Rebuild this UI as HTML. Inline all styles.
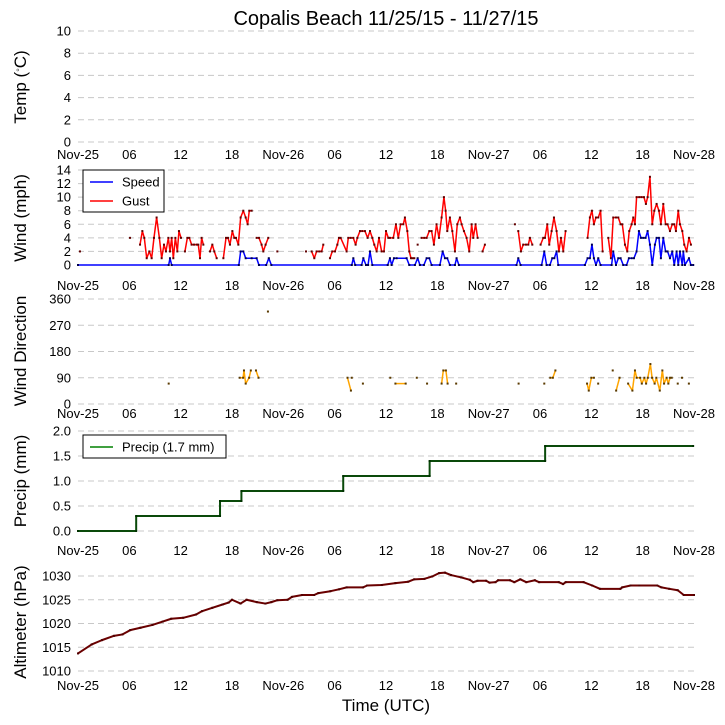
<!DOCTYPE html>
<html><head><meta charset="utf-8">
<style>
html,body{margin:0;padding:0;background:#fff;}
svg{display:block;font-family:"Liberation Sans","DejaVu Sans",sans-serif;}
</style></head>
<body>
<svg id="chart" width="725" height="725" viewBox="0 0 725 725" xmlns="http://www.w3.org/2000/svg">
<text x="386" y="25" font-size="20" text-anchor="middle">Copalis Beach 11/25/15 - 11/27/15</text>
<text x="386" y="711" font-size="17" text-anchor="middle">Time (UTC)</text>
</svg>
<script>
// ---- data ----
const xTickLabels = ["Nov-25","06","12","18","Nov-26","06","12","18","Nov-27","06","12","18","Nov-28"];
const tempTicks = [0,2,4,6,8,10];
const windTicks = [0,2,4,6,8,10,12,14];
const dirTicks = [0,90,180,270,360];
const precipTicks = [0.0,0.5,1.0,1.5,2.0];
const altTicks = [1010,1015,1020,1025,1030];

const gustHours = [0.23,null,6.08,null,7.25,7.52,7.75,8.03,8.34,8.61,8.88,9.19,9.51,9.78,10.05,10.28,10.56,10.75,10.95,11.14,11.38,11.61,11.8,12.04,null,12.5,12.78,13.01,13.28,13.56,13.87,14.06,14.26,14.45,14.65,null,15.43,15.7,15.93,16.21,null,16.99,17.3,17.53,17.76,18.04,18.27,18.47,18.74,19.01,19.32,19.6,19.83,20.02,20.3,null,20.88,21.15,21.46,21.66,21.93,22.24,null,23.3,null,26.65,null,27.31,27.62,27.89,28.2,28.48,28.67,null,29.45,29.72,30.04,30.31,30.5,30.7,31.4,31.59,31.87,32.18,32.45,32.65,32.96,33.23,33.54,33.85,34.13,34.4,34.63,34.91,35.18,35.49,35.76,36.0,36.27,36.46,36.85,37.16,37.44,37.71,38.02,38.21,38.49,38.72,38.92,39.11,39.31,null,39.7,null,40.16,40.47,40.75,41.06,41.33,41.6,41.91,42.19,42.5,42.77,42.97,43.16,43.47,43.75,44.06,44.33,44.64,44.84,45.11,45.42,45.73,46.01,46.2,46.47,46.71,null,47.29,47.56,null,51.07,null,51.46,51.77,52.04,52.36,52.63,52.82,53.1,null,54.07,54.38,54.58,54.85,55.08,55.36,55.63,55.94,56.21,56.45,56.72,56.99,null,59.56,59.83,60.07,60.3,60.54,60.81,61.08,61.32,null,61.98,62.29,62.56,62.88,63.15,63.42,63.62,63.93,64.2,64.43,64.71,64.9,65.1,65.29,65.6,65.87,66.15,66.38,66.58,66.85,67.12,67.36,67.63,67.9,68.13,68.41,68.68,68.91,69.19,69.46,69.69,69.89,70.16,70.36,70.63,70.86,71.14,71.41,71.64];
const gustValues = [2,null,4,null,3,5,4,1,2,1,4,7,4,1,3,2,4,2,4,1,4,2,5,4,null,2,4,4,3,3,3,3,1,4,3,null,2,3,2,1,null,1,4,4,3,5,4,4,3,7,8,7,6,8,8,null,4,4,3,2,3,4,null,2,null,2,null,2,1,2,2,2,3,null,1,2,2,3,4,4,2,4,4,4,3,4,5,5,5,4,5,4,3,2,4,2,2,5,4,4,4,6,4,6,6,7,5,2,1,1,1,null,3,null,4,4,4,5,5,3,6,4,7,10,8,5,7,5,2,6,7,6,5,4,2,6,4,6,4,null,2,3,null,6,null,5,2,3,3,3,4,3,null,3,4,4,6,3,5,7,5,2,4,2,5,null,4,7,8,6,7,7,8,2,null,4,1,7,7,7,6,6,3,2,5,6,7,6,10,10,10,10,9,10,13,6,8,9,8,6,9,6,6,5,6,6,5,8,6,5,3,2,4,3];

const speedHours = [0,10.6,10.75,10.95,18.8,19.01,19.32,19.6,20.3,20.88,21.15,22.0,22.3,22.6,32.0,32.18,32.4,33.15,33.35,33.66,33.9,34.13,34.4,36.2,36.46,36.66,36.93,37.24,38.41,38.72,39.38,39.7,39.97,40.43,40.75,41.06,41.33,42.3,42.62,42.89,43.16,43.47,44.06,44.25,44.52,51.26,51.46,51.73,54.19,54.5,54.77,55.16,55.43,55.67,55.94,56.13,59.25,59.56,59.83,60.07,60.3,60.54,60.81,61.08,62.37,62.56,62.88,63.15,63.42,63.73,64.12,64.39,64.71,64.98,65.29,65.56,65.8,66.07,66.34,66.58,66.85,67.12,67.43,67.63,67.9,68.13,68.41,68.68,68.91,69.19,69.46,69.69,69.97,70.16,70.36,70.63,70.75,70.94,71.41,71.64,71.91];
const speedValues = [0,0,1,0,0,2,2,1,1,1,0,0,1,0,0,1,0,0,1,0,0,2,0,0,1,0,1,1,1,0,0,1,0,0,1,1,0,0,2,1,1,0,0,1,0,0,1,0,0,2,0,0,1,1,2,0,0,1,1,3,1,0,1,0,0,2,0,1,1,0,0,1,1,1,2,5,4,4,4,5,3,0,3,4,4,1,4,2,2,1,2,0,2,0,2,0,2,0,1,0,0];

const dirHours = [10.6,null,18.9,19.3,19.4,19.6,20.0,20.2,null,20.8,21.1,null,22.2,null,32.0,null,33.3,null,31.5,31.9,null,36.5,null,37.1,38.3,null,39.6,null,40.8,null,42.5,42.7,43.0,43.2,null,44.2,null,51.5,null,54.5,null,55.2,55.5,55.8,null,59.5,59.7,60.0,60.3,null,60.8,null,62.5,null,62.9,63.3,null,64.3,64.8,65.1,65.3,65.7,65.9,66.2,66.4,66.6,66.9,67.1,67.4,67.6,68.0,68.3,68.5,68.8,69.0,69.2,69.4,null,70.1,null,70.6,null,71.4];
const dirValues = [70,null,90,90,115,70,90,115,null,115,90,null,317,null,90,null,70,null,90,46,null,90,null,70,70,null,90,null,70,null,70,115,115,70,null,70,null,70,null,70,null,90,90,115,null,70,46,90,90,null,70,null,115,null,46,90,null,70,46,115,90,90,70,90,70,90,137,90,70,90,46,115,70,90,70,90,90,null,70,null,90,null,70];

const precipHours = [0,6.8,6.8,16.6,16.6,19.1,19.1,31.0,31.0,41.1,41.1,54.6,54.6,71.9];
const precipValues = [0,0,0.3,0.3,0.6,0.6,0.8,0.8,1.1,1.1,1.4,1.4,1.7,1.7];

const altHours = [0,1.6,2.8,4.2,5.2,6.1,7.3,8.7,9.9,10.9,12.3,13.8,14.5,15.7,16.9,17.6,18.0,19.0,19.7,20.9,21.9,22.6,23.3,24.5,25.0,26.2,27.6,28.1,29.5,30.5,31.4,33.3,33.8,35.5,37.1,38.6,39.3,40.5,41.4,42.2,42.9,43.6,44.8,45.8,46.2,46.7,47.7,48.1,48.8,49.1,50.5,51.0,51.7,52.4,53.4,53.9,56.2,56.7,57.0,59.1,60.1,61.0,63.4,63.6,64.6,65.6,67.7,68.2,69.1,70.1,70.8,72.0];
const altValues = [1013.7,1015.6,1016.5,1017.4,1017.7,1018.6,1019.1,1019.7,1020.4,1021,1021.2,1021.9,1022.6,1023.3,1024,1024.4,1025,1024.2,1025,1024.5,1024.2,1024.5,1024.9,1025,1025.6,1026,1026,1026.4,1026.8,1027.2,1027.6,1027.6,1028,1028.1,1028.5,1028.8,1029.3,1029.4,1029.9,1030.6,1030.7,1030.2,1029.7,1029.2,1028.7,1029,1029,1028.6,1028.7,1029.1,1029.1,1028.7,1029.3,1028.7,1029.1,1028.7,1028.7,1028.3,1028.7,1028.7,1028,1027.3,1027.3,1027.6,1028,1028,1028,1027.6,1027.3,1027,1026,1026];

// ---- drawing ----
const svg = document.getElementById('chart');
const NS = 'http://www.w3.org/2000/svg';
const X0 = 78, X1 = 694;
const xScale = h => X0 + (h / 72) * (X1 - X0);
function mk(tag, attrs, parent) {
  const e = document.createElementNS(NS, tag);
  for (const k in attrs) e.setAttribute(k, attrs[k]);
  (parent || svg).appendChild(e);
  return e;
}
function yScaleFn(vmin, vmax, ybot, ytop) { return v => ybot - (v - vmin) / (vmax - vmin) * (ybot - ytop); }

function panel(name, ticks, fmt, ys, ybot, ytop, xlabY, ylabel, ylabY) {
  const g = mk('g', {});
  
  
  ticks.forEach(t => {
    const y = ys(t);
    const gl = mk('line', {x1: X0, x2: X1, y1: y, y2: y, stroke: '#c8c8c8', 'stroke-dasharray': '6,4', 'stroke-width': 1}, g);
    
    
    const tl = mk('text', {x: 71, y: y + 4.5, 'font-size': 13, 'text-anchor': 'end'}, g);
    tl.textContent = fmt(t);
    
    
  });
  xTickLabels.forEach((lab, i) => {
    const t = mk('text', {x: xScale(i * 6), y: xlabY, 'font-size': 13, 'text-anchor': 'middle'}, g);
    t.textContent = lab;
    
    
  });
  const yl = mk('text', {x: 0, y: 0, 'font-size': 17, 'text-anchor': 'middle', transform: `translate(26,${ylabY}) rotate(-90)`}, g);
  yl.innerHTML = ylabel;
  
  
  return g;
}

function series(name, hours, vals, ys, color, markerColor, lw) {
  const g = mk('g', {});
  
  
  let segs = [], cur = [];
  for (let i = 0; i < hours.length; i++) {
    if (hours[i] === null || vals[i] === null) { if (cur.length) segs.push(cur); cur = []; }
    else cur.push([xScale(hours[i]), ys(vals[i])]);
  }
  if (cur.length) segs.push(cur);
  segs.forEach(s => {
    if (s.length > 1) {
      const p = mk('polyline', {points: s.map(q => q.join(',')).join(' '), fill: 'none', stroke: color, 'stroke-width': lw, 'stroke-linejoin': 'round'}, g);
      
      
    }
    s.forEach(q => {
      const r = mk('rect', {x: q[0] - 1, y: q[1] - 1, width: 2, height: 2, fill: markerColor}, g);
      
      
    });
  });
}

// Temp
const yT = yScaleFn(0, 10, 142, 31);
panel('temp', tempTicks, t => t, yT, 142, 31, 159, 'Temp (<tspan baseline-shift="super" font-size="10">◦</tspan>C)', 87);
// Wind
const yW = yScaleFn(0, 14, 265, 170);
panel('wind', windTicks, t => t, yW, 265, 170, 290, 'Wind (mph)', 218);
series('gust', gustHours, gustValues, yW, '#ff0000', '#600000', 1.5);
series('speed', speedHours, speedValues, yW, '#0000ff', '#000050', 1.5);
// Direction
const yD = yScaleFn(0, 360, 404, 299);
panel('direction', dirTicks, t => t, yD, 404, 299, 418, 'Wind Direction', 351);
series('direction', dirHours, dirValues, yD, '#ffa500', '#5a3a00', 1.5);
// Precip
const yP = yScaleFn(0, 2, 531, 431);
panel('precip', precipTicks, t => t.toFixed(1), yP, 531, 431, 555, 'Precip (mm)', 481);
series('precip', precipHours, precipValues, yP, '#0a4a0a', '#003000', 2);
// Altimeter
const yA = yScaleFn(1010, 1030, 671, 576);
panel('altimeter', altTicks, t => t, yA, 671, 576, 690, 'Altimeter (hPa)', 622);
series('altimeter', altHours, altValues, yA, '#6a0000', '#500000', 2);

// Legends
function legend(name, x, y, w, h, entries) {
  const g = mk('g', {});
  
  
  mk('rect', {x: x, y: y, width: w, height: h, fill: '#fff', stroke: '#000', 'stroke-width': 1}, g);
  entries.forEach((e, i) => {
    const yy = y + 12 + i * 19;
    mk('line', {x1: x + 7, x2: x + 30, y1: yy, y2: yy, stroke: e[1], 'stroke-width': 1.5}, g);
    const t = mk('text', {x: x + 39, y: yy + 4.5, 'font-size': 13}, g);
    t.textContent = e[0];
    
    
  });
}
legend('wind-legend', 83, 170, 81, 42, [['Speed', '#0000ff'], ['Gust', '#ff0000']]);
legend('precip-legend', 83, 435, 143, 23, [['Precip (1.7 mm)', '#008000']]);
</script>
</body></html>
